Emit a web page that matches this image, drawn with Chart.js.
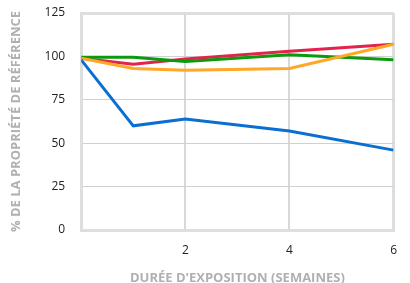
<!DOCTYPE html>
<html>
<head>
<meta charset="utf-8">
<script src="https://cdn.jsdelivr.net/npm/chart.js@4"></script>
<style>
  html, body { margin: 0; padding: 0; background: #fff; }
  #wrap { width: 410px; height: 283px; }
</style>
</head>
<body>
<div id="wrap"><canvas id="chart"></canvas></div>
<script>
// weeks of exposure
const weeks = [0, 1, 2, 4, 6];
const blueVals   = [98, 60, 64, 57, 46];
const orangeVals = [99, 93, 92, 93, 107];
const greenVals  = [99.5, 99.5, 97, 101, 98];
const redVals    = [99, 95.5, 98.5, 103, 107];
const yTicks = [0, 25, 50, 75, 100, 125];
const xTicks = [2, 4, 6];

const frame = '#dedede';
const toPts = vals => weeks.map((w, i) => ({ x: w, y: vals[i] }));

function line(label, vals, color) {
  return { label, data: toPts(vals), borderColor: color, backgroundColor: color,
           borderWidth: 3, pointRadius: 0, tension: 0, fill: false };
}

new Chart(document.getElementById('chart'), {
  type: 'line',
  data: {
    datasets: [
      line('A', blueVals, '#0a6fd1'),
      line('B', orangeVals, '#ffa726'),
      line('C', greenVals, '#0b9a0b'),
      line('D', redVals, '#e4234b')
    ]
  },
  options: {
    responsive: true,
    maintainAspectRatio: false,
    animation: false,
    layout: { padding: { top: 13, right: 8, left: 8, bottom: 0 } },
    plugins: { legend: { display: false }, tooltip: { enabled: false } },
    scales: {
      x: {
        type: 'linear', min: 0, max: 6,
        afterBuildTicks: ax => { ax.ticks = xTicks.map(v => ({ value: v })); },
        border: { display: true, color: frame, width: 3 },
        grid: {
          drawTicks: false,
          color: ctx => ctx.tick && ctx.tick.value === 6 ? frame : '#d8d8d8',
          lineWidth: ctx => ctx.tick && ctx.tick.value === 6 ? 3 : 2
        },
        ticks: { padding: 13, color: '#222', font: { family: 'Open Sans', size: 12 } },
        title: { display: true, text: "DURÉE D'EXPOSITION (SEMAINES)", color: '#b0b0b0',
                 font: { family: 'Open Sans', size: 13, weight: 'bold' }, padding: { top: 0, bottom: -3 } }
      },
      y: {
        min: 0, max: 125,
        afterBuildTicks: ax => { ax.ticks = yTicks.map(v => ({ value: v })); },
        afterFit: s => { s.paddingTop = 6; s.paddingBottom = 6; },
        border: { display: true, color: frame, width: 3 },
        grid: {
          drawTicks: false,
          color: ctx => ctx.tick && ctx.tick.value === 125 ? frame : '#d0d0d0',
          lineWidth: ctx => ctx.tick && ctx.tick.value === 125 ? 3 : 1
        },
        ticks: { padding: 16, color: '#222', font: { family: 'Open Sans', size: 12 } },
        title: { display: true, text: '% DE LA PROPRIÉTÉ DE RÉFÉRENCE', color: '#b0b0b0',
                 font: { family: 'Open Sans', size: 13, weight: 'bold' }, padding: { top: 0, bottom: 5 } }
      }
    }
  }
});
</script>
</body>
</html>
